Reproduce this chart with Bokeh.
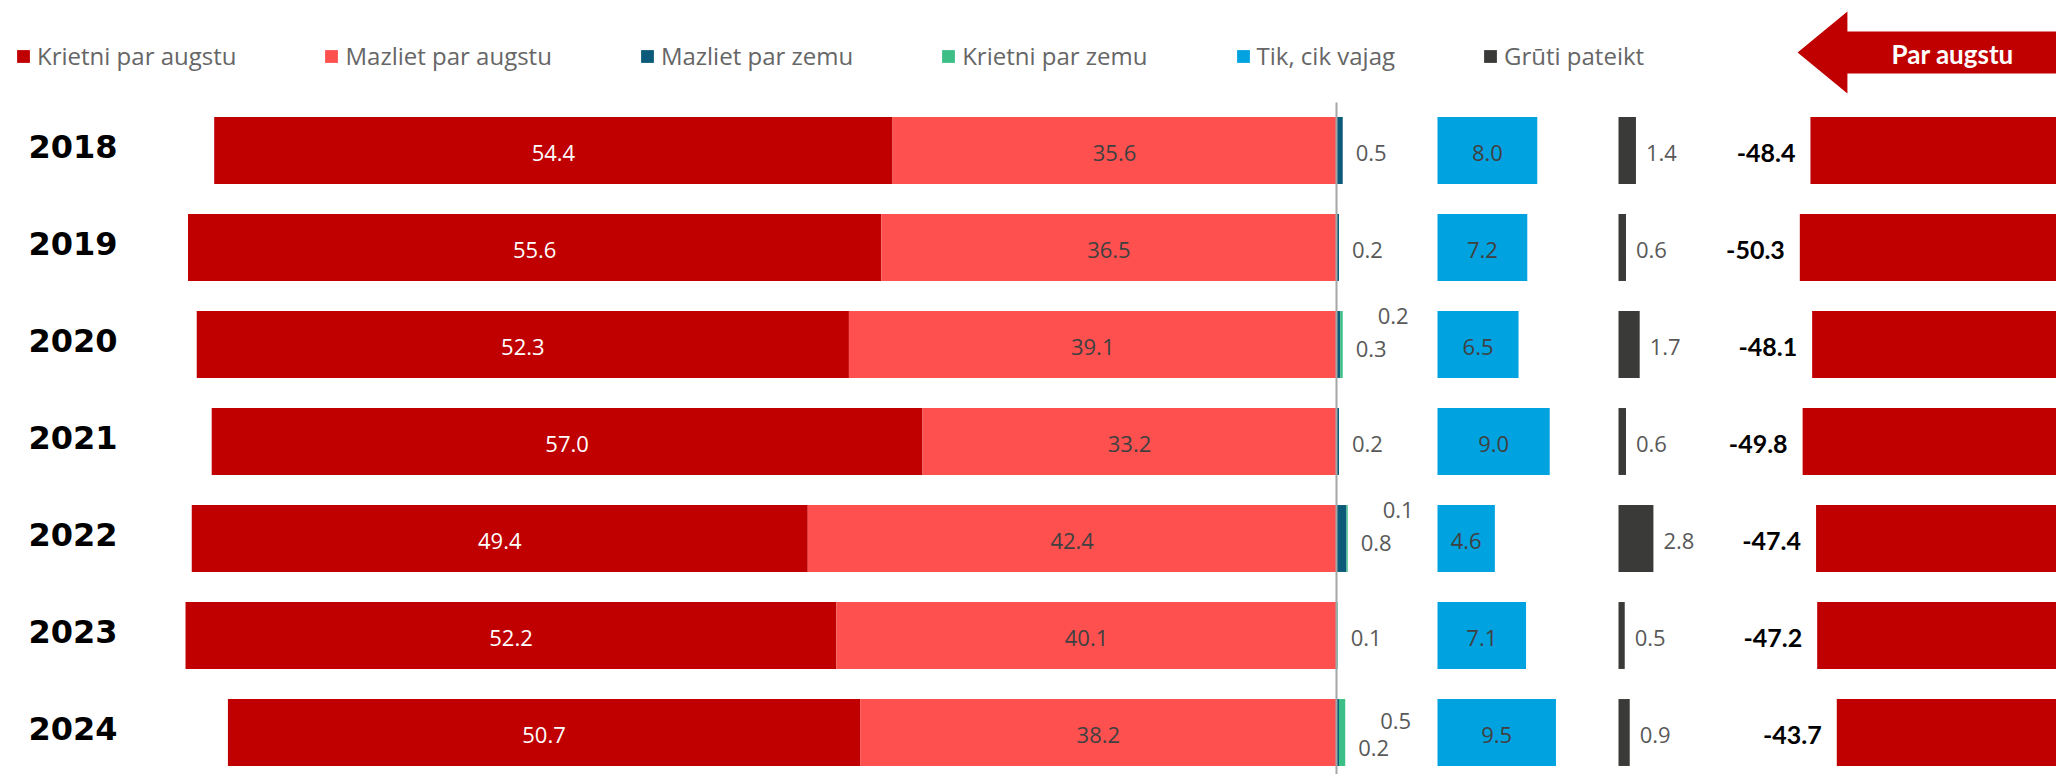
from bokeh.plotting import figure
from bokeh.models import Range1d, Legend, LegendItem, ColumnDataSource
from bokeh.core.properties import value
from bokeh.embed import file_html
from bokeh.resources import INLINE

# ---------------- data ----------------
years = ["2018", "2019", "2020", "2021", "2022", "2023", "2024"]
krietni_par_augstu = [54.4, 55.6, 52.3, 57.0, 49.4, 52.2, 50.7]
mazliet_par_augstu = [35.6, 36.5, 39.1, 33.2, 42.4, 40.1, 38.2]
mazliet_par_zemu = [0.5, 0.2, 0.3, 0.2, 0.8, 0.0, 0.2]
krietni_par_zemu = [0.0, 0.0, 0.2, 0.0, 0.1, 0.1, 0.5]
tik_cik_vajag = [8.0, 7.2, 6.5, 9.0, 4.6, 7.1, 9.5]
gruti_pateikt = [1.4, 0.6, 1.7, 0.6, 2.8, 0.5, 0.9]
neto = [-48.4, -50.3, -48.1, -49.8, -47.4, -47.2, -43.7]

legend_labels = ["Krietni par augstu", "Mazliet par augstu", "Mazliet par zemu",
                 "Krietni par zemu", "Tik, cik vajag", "Grūti pateikt"]
arrow_label = "Par augstu"

# ---------------- style ----------------
C_KA = "#c00000"
C_MA = "#ff5050"
C_MZ = "#0b5a79"
C_KZ = "#3cbf87"
C_TIK = "#00a3e0"
C_GP = "#3a3a38"
C_TXT = "#595959"
C_IN = "#404040"

W, H = 2056, 774
ROW_PX = 97.0
TOP_PX = 150.0      # top of frame -> first row centre
BAR_H = 0.69
SCALE = 12.47       # px per percentage point
LBL_FONT = value("Open Sans")
LBL_SIZE = value("22px")
BOLD_FONT = value("'Liberation Sans Narrow', 'Lato', sans-serif")


def panel_range(zero_px, px_per_unit):
    return Range1d(-zero_px / px_per_unit, (W - zero_px) / px_per_unit)


n = len(years)
rows = list(range(n))
y_top = -TOP_PX / ROW_PX
y_bottom = y_top + H / ROW_PX

p = figure(width=W, height=H, output_backend="svg", toolbar_location=None,
           x_range=panel_range(1336, SCALE), y_range=Range1d(y_bottom, y_top),
           x_axis_location=None, y_axis_location=None,
           min_border_left=0, min_border_right=0, min_border_top=0,
           min_border_bottom=0, outline_line_color=None)
p.grid.visible = False
p.extra_x_ranges = {
    "tik": panel_range(1437, SCALE),
    "gp": panel_range(1618, SCALE),
    "net": panel_range(2081, 5.6),
}

src = ColumnDataSource(dict(
    y=rows,
    year=years,
    ka_l=[-(a + b) for a, b in zip(krietni_par_augstu, mazliet_par_augstu)],
    ka_r=[-b for b in mazliet_par_augstu],
    ma_r=[0.0] * n,
    mz_r=mazliet_par_zemu,
    kz_r=[a + b for a, b in zip(mazliet_par_zemu, krietni_par_zemu)],
    tik=tik_cik_vajag,
    gp=gruti_pateikt,
    net=neto,
    zero=[0.0] * n,
    x_left=[p.x_range.start] * n,
    ka_c=[-(b + a / 2) for a, b in zip(krietni_par_augstu, mazliet_par_augstu)],
    ma_c=[-b / 2 for b in mazliet_par_augstu],
    tik_c=[t / 2 for t in tik_cik_vajag],
    ka_t=[f"{v:.1f}" for v in krietni_par_augstu],
    ma_t=[f"{v:.1f}" for v in mazliet_par_augstu],
    tik_t=[f"{v:.1f}" for v in tik_cik_vajag],
    gp_t=[f"{v:.1f}" for v in gruti_pateikt],
    net_t=[f"{v:.1f}" for v in neto],
))

r_ka = p.hbar(y="y", left="ka_l", right="ka_r", height=BAR_H, source=src,
              fill_color=C_KA, line_color=None)
r_ma = p.hbar(y="y", left="ka_r", right="ma_r", height=BAR_H, source=src,
              fill_color=C_MA, line_color=None)
r_mz = p.hbar(y="y", left="ma_r", right="mz_r", height=BAR_H, source=src,
              fill_color=C_MZ, line_color=None)
r_kz = p.hbar(y="y", left="mz_r", right="kz_r", height=BAR_H, source=src,
              fill_color=C_KZ, line_color=None)
r_tik = p.hbar(y="y", left="zero", right="tik", height=BAR_H, source=src,
               fill_color=C_TIK, line_color=None, x_range_name="tik")
r_gp = p.hbar(y="y", left="zero", right="gp", height=BAR_H, source=src,
              fill_color=C_GP, line_color=None, x_range_name="gp")
p.hbar(y="y", left="net", right="zero", height=BAR_H, source=src,
       fill_color=C_KA, line_color=None, x_range_name="net")

# zero line
p.segment(x0=0, x1=0, y0=-0.495, y1=y_bottom, line_color="#a6a6a6", line_width=2)

# year labels (row labels)
p.text(x="x_left", y="y", text="year", source=src, text_align="right",
       text_baseline="middle", x_offset=117, y_offset=-4, text_color="black",
       text_font=value("DejaVu Sans"), text_font_style="bold",
       text_font_size=value("32px"))

# value labels
p.text(x="ka_c", y="y", text="ka_t", source=src, text_align="center",
       text_baseline="middle", y_offset=2, text_color="white",
       text_font=LBL_FONT, text_font_size=LBL_SIZE)
p.text(x="ma_c", y="y", text="ma_t", source=src, text_align="center",
       text_baseline="middle", y_offset=2, text_color=C_IN,
       text_font=LBL_FONT, text_font_size=LBL_SIZE)
p.text(x="tik_c", y="y", text="tik_t", source=src, text_align="center",
       text_baseline="middle", y_offset=2, text_color=C_IN,
       text_font=LBL_FONT, text_font_size=LBL_SIZE, x_range_name="tik")
p.text(x="gp", y="y", text="gp_t", source=src, text_align="left",
       text_baseline="middle", x_offset=10, y_offset=2, text_color=C_TXT,
       text_font=LBL_FONT, text_font_size=LBL_SIZE, x_range_name="gp")
p.text(x="net", y="y", text="net_t", source=src, text_align="right",
       text_baseline="middle", x_offset=-15, y_offset=2, text_color="black",
       text_font=BOLD_FONT, text_font_style="bold",
       text_font_size=value("25px"), x_range_name="net")

# small "par zemu" labels (two stacked labels when both parts are present)
sx, sy, st, sxo, syo = [], [], [], [], []
for i in rows:
    mz, kz = mazliet_par_zemu[i], krietni_par_zemu[i]
    tot = mz + kz
    if mz > 0 and kz > 0:
        lo, up = (15, -12) if kz >= mz else (4, -29)
        sx += [tot, tot]; sy += [i, i]
        st += [f"{mz:.1f}", f"{kz:.1f}"]
        sxo += [13, 35]; syo += [lo, up]
    else:
        sx.append(tot); sy.append(i)
        st.append(f"{max(mz, kz):.1f}")
        sxo.append(13); syo.append(2)
p.text(x=sx, y=sy, text=st, x_offset=sxo, y_offset=syo, text_align="left",
       text_baseline="middle", text_color=C_TXT,
       text_font=LBL_FONT, text_font_size=LBL_SIZE)

# "Par augstu" arrow (top right)
ay = y_top + 52 / ROW_PX
hh, bh = 0.423, 0.216
tip, base = -50.7, -41.8
p.patch(x=[tip, base, base, 0, 0, base, base],
        y=[ay, ay - hh, ay - bh, ay - bh, ay + bh, ay + bh, ay + hh],
        fill_color=C_KA, line_color=None, x_range_name="net")
p.text(x=[-23.0], y=[ay], text=[arrow_label], text_align="center",
       text_baseline="middle", y_offset=1, text_color="white",
       text_font=value("Lato"), text_font_style="bold",
       text_font_size=value("26px"), x_range_name="net")

# legend
legend = Legend(items=[LegendItem(label=lab, renderers=[r]) for lab, r in
                       zip(legend_labels, [r_ka, r_ma, r_mz, r_kz, r_tik, r_gp])],
                orientation="horizontal", location=(15, 702),
                glyph_width=16, glyph_height=16, label_standoff=6, spacing=87,
                padding=0, margin=0, border_line_color=None,
                background_fill_alpha=0,
                label_text_font="Open Sans", label_text_font_size="24px",
                label_text_color="#666666")
p.add_layout(legend)

open("out.html", "w").write(file_html(p, INLINE))
